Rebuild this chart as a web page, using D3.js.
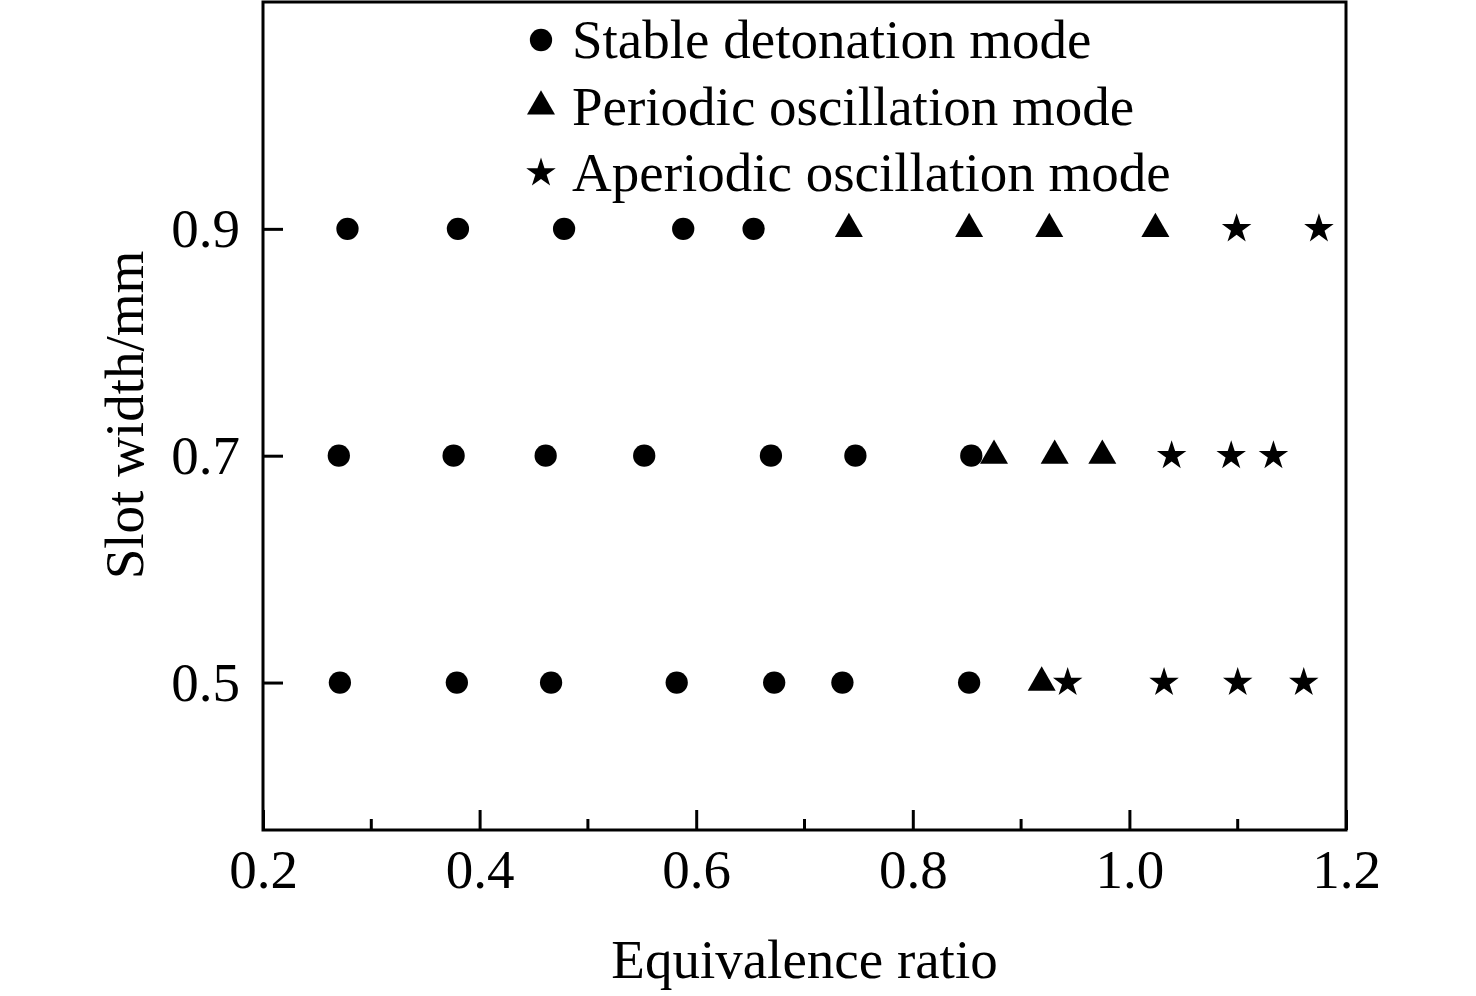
<!DOCTYPE html>
<html>
<head>
<meta charset="utf-8">
<script src="https://cdn.jsdelivr.net/npm/d3@7"></script>
<style>
  body { margin: 0; background: #fff; }
  text { font-family: "Liberation Serif", "Times New Roman", serif; fill: #000; }
</style>
</head>
<body>
<div id="chart"></div>
<script>
// mode categories and their points (slot width, equivalence ratio)
var modes = ["Stable detonation mode", "Periodic oscillation mode", "Aperiodic oscillation mode"];
var slotWidths = [0.9, 0.7, 0.5];

var stableRatios = [
  [0.278, 0.380, 0.478, 0.588, 0.653],
  [0.270, 0.376, 0.461, 0.552, 0.669, 0.747, 0.854],
  [0.271, 0.379, 0.466, 0.582, 0.672, 0.735, 0.852]
];
var periodicRatios = [
  [0.741, 0.852, 0.926, 1.024],
  [0.875, 0.931, 0.975],
  [0.919]
];
var aperiodicRatios = [
  [1.099, 1.175],
  [1.039, 1.094, 1.133],
  [0.943, 1.032, 1.100, 1.161]
];

var xTicks = [0.2, 0.4, 0.6, 0.8, 1.0, 1.2];
var xMinorTicks = [0.3, 0.5, 0.7, 0.9, 1.1];
var yTicks = [0.5, 0.7, 0.9];

var width = 1476, height = 996;
var margin = { left: 263, right: 130, top: 2, bottom: 166 };
var fontSize = "55px";

var svg = d3.select("#chart").append("svg")
  .attr("width", width)
  .attr("height", height);

var x = d3.scaleLinear().domain([0.2, 1.2]).range([margin.left, width - margin.right]);
var y = d3.scaleLinear().domain([0.37, 1.1]).range([height - margin.bottom, margin.top]);

// flatten into points
function toPoints(rows, mode) {
  var pts = [];
  rows.forEach(function(row, i) {
    row.forEach(function(r) { pts.push({ x: r, y: slotWidths[i], mode: mode }); });
  });
  return pts;
}
var points = toPoints(stableRatios, 0)
  .concat(toPoints(periodicRatios, 1))
  .concat(toPoints(aperiodicRatios, 2));

var symbols = [
  d3.symbol().type(d3.symbolCircle).size(390),
  d3.symbol().type(d3.symbolTriangle).size(340),
  d3.symbol().type(d3.symbolStar).size(270)
];

// frame
svg.append("rect")
  .attr("x", x(0.2)).attr("y", y(1.1))
  .attr("width", x(1.2) - x(0.2))
  .attr("height", y(0.37) - y(1.1))
  .attr("fill", "none")
  .attr("stroke", "#000")
  .attr("stroke-width", 3);

// bottom axis, ticks inward
var xAxis = svg.append("g")
  .attr("transform", "translate(0," + y(0.37) + ")")
  .call(d3.axisBottom(x).tickValues(xTicks).tickSize(-20).tickSizeOuter(0).tickPadding(19)
    .tickFormat(d3.format(".1f")));
xAxis.select(".domain").remove();
xAxis.selectAll(".tick line").attr("stroke-width", 3);
xAxis.selectAll("text").style("font-size", fontSize).attr("dy", "0.71em");

svg.append("g")
  .attr("transform", "translate(0," + y(0.37) + ")")
  .selectAll("line")
  .data(xMinorTicks)
  .enter().append("line")
  .attr("x1", d => x(d)).attr("x2", d => x(d))
  .attr("y1", 0).attr("y2", -11)
  .attr("stroke", "#000").attr("stroke-width", 3);

// left axis, ticks inward
var yAxis = svg.append("g")
  .attr("transform", "translate(" + x(0.2) + ",0)")
  .call(d3.axisLeft(y).tickValues(yTicks).tickSize(-20).tickSizeOuter(0).tickPadding(23)
    .tickFormat(d3.format(".1f")));
yAxis.select(".domain").remove();
yAxis.selectAll(".tick line").attr("stroke-width", 3);
yAxis.selectAll("text").style("font-size", fontSize);

// axis titles
svg.append("text")
  .attr("x", (x(0.2) + x(1.2)) / 2)
  .attr("y", 978)
  .attr("text-anchor", "middle")
  .style("font-size", fontSize)
  .text("Equivalence ratio");

svg.append("text")
  .attr("transform", "translate(143,415) rotate(-90)")
  .attr("text-anchor", "middle")
  .style("font-size", fontSize)
  .text("Slot width/mm");

// markers
svg.append("g")
  .selectAll("path")
  .data(points)
  .enter().append("path")
  .attr("d", d => symbols[d.mode]())
  .attr("transform", d => "translate(" + x(d.x) + "," + y(d.y) + ")")
  .attr("fill", "#000");

// legend
var legend = svg.append("g").attr("transform", "translate(541,40)");
var rows = legend.selectAll("g")
  .data(modes)
  .enter().append("g")
  .attr("transform", (d, i) => "translate(0," + i * 66.5 + ")");
rows.append("path")
  .attr("d", (d, i) => symbols[i]())
  .attr("fill", "#000");
rows.append("text")
  .attr("x", 31)
  .attr("y", 18)
  .style("font-size", fontSize)
  .text(d => d);
</script>
</body>
</html>
